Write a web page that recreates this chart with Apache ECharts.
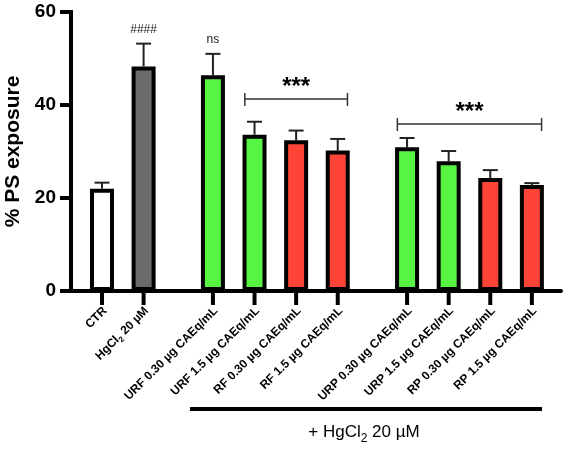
<!DOCTYPE html>
<html>
<head>
<meta charset="utf-8">
<script src="https://cdn.jsdelivr.net/npm/echarts@6/dist/echarts.min.js"></script>
<style>html,body{margin:0;padding:0;background:#fff}#c{width:567px;height:451px}</style>
</head>
<body>
<div id="c"></div>
<script>
// ---- data ----
var categories = ['CTR', 'HgCl{sub|2} 20 µM',
  'URF 0.30 µg CAEq/mL', 'URF 1.5 µg CAEq/mL', 'RF 0.30 µg CAEq/mL', 'RF 1.5 µg CAEq/mL',
  'URP 0.30 µg CAEq/mL', 'URP 1.5 µg CAEq/mL', 'RP 0.30 µg CAEq/mL', 'RP 1.5 µg CAEq/mL'];
var groupOf = [0, 0, 1, 1, 1, 1, 2, 2, 2, 2];
var values = [22.0, 48.3, 46.4, 33.6, 32.4, 30.2, 30.9, 27.9, 24.3, 22.8];
var errors = [1.3, 4.9, 4.6, 2.8, 2.1, 2.5, 2.0, 2.2, 1.7, 0.4];
var sigLabels = ['', '####', 'ns', '', '', '', '', '', '', ''];
var barKinds = ['ctrl', 'hg', 'green', 'green', 'red', 'red', 'green', 'green', 'red', 'red'];
// brackets: [first bar index, last bar index, y value, label]
var brackets = [[3, 5, 41.3, '***'], [6, 9, 35.9, '***']];
var yTicks = [0, 20, 40, 60];

// ---- styles / layout ----
var colors = { ctrl: '#ffffff', hg: '#6b6b6b', green: '#57f443', red: '#fd4436' };
var FONT = '"Liberation Sans", Arial, Helvetica, sans-serif';
var LEAD = 2.235; // empty space before first bar, in slot units
var XMAX = 35.335;
function pos(i) { return LEAD + i * 3 + groupOf[i] * 2; }

var barData = values.map(function (v, i) {
  return { value: [pos(i), v], itemStyle: { color: colors[barKinds[i]] } };
});
var errData = values.map(function (v, i) { return [pos(i), v, errors[i], i]; });
var lblData = categories.map(function (c, i) { return [pos(i), 0, i]; });
var brData = brackets.map(function (b) { return [pos(b[0]) - 0.7, pos(b[1]) + 0.7, b[2], b[3]]; });
var yAxisData = yTicks.map(function (t) { return [0, t]; });

var chart = echarts.init(document.getElementById('c'), null, { renderer: 'canvas' });
chart.setOption({
  animation: false,
  backgroundColor: '#fff',
  grid: { left: 71, right: 6, top: 12, bottom: 160, containLabel: false, outerBoundsMode: 'none' },
  xAxis: {
    type: 'value', min: 0, max: XMAX,
    axisLine: { show: true, lineStyle: { color: '#000', width: 4 } },
    axisTick: { show: false }, axisLabel: { show: false }, splitLine: { show: false }
  },
  yAxis: {
    type: 'value', min: yTicks[0], max: yTicks[yTicks.length - 1], interval: 20,
    axisLine: { show: false }, axisTick: { show: false },
    axisLabel: { color: '#000', fontSize: 19, fontWeight: 'bold', fontFamily: FONT, margin: 15 },
    splitLine: { show: false },
    name: '% PS exposure', nameLocation: 'middle', nameGap: 44,
    nameTextStyle: { color: '#000', fontSize: 21, fontWeight: 'bold', fontFamily: FONT }
  },
  series: [
    {
      // y axis line and ticks
      type: 'custom', z: 5, clip: false,
      renderItem: function (params, api) {
        var p = api.coord([api.value(0), api.value(1)]);
        var children = [
          { type: 'line', shape: { x1: p[0] - 11, y1: p[1], x2: p[0], y2: p[1] }, style: { stroke: '#000', lineWidth: 4 } }
        ];
        if (params.dataIndex === 0) {
          var top = api.coord([0, yTicks[yTicks.length - 1]]);
          children.push({ type: 'line', shape: { x1: p[0], y1: p[1] + 2, x2: top[0], y2: top[1] - 2 }, style: { stroke: '#000', lineWidth: 4 } });
        }
        return { type: 'group', children: children };
      },
      data: yAxisData
    },
    {
      type: 'custom', z: 1,
      renderItem: function (params, api) {
        var p = api.coord([api.value(0), api.value(1)]);
        var q = api.coord([api.value(0), api.value(1) + api.value(2)]);
        var i = api.value(3);
        var children = [
          { type: 'line', shape: { x1: p[0], y1: p[1], x2: q[0], y2: q[1] }, style: { stroke: '#222', lineWidth: 2 } },
          { type: 'line', shape: { x1: q[0] - 7.5, y1: q[1], x2: q[0] + 7.5, y2: q[1] }, style: { stroke: '#222', lineWidth: 2 } }
        ];
        if (sigLabels[i]) {
          children.push({ type: 'text', x: q[0], y: q[1] - 14,
            style: { text: sigLabels[i], fill: '#222', font: '12px ' + FONT, textAlign: 'center', textVerticalAlign: 'middle' } });
        }
        return { type: 'group', children: children };
      },
      data: errData
    },
    {
      type: 'bar', z: 2, barWidth: 24,
      itemStyle: { borderColor: '#000', borderWidth: 4 },
      data: barData
    },
    {
      type: 'custom', z: 3, clip: false,
      renderItem: function (params, api) {
        var p = api.coord([api.value(0), 0]);
        var i = api.value(2);
        return { type: 'group', children: [
          { type: 'line', shape: { x1: p[0], y1: p[1] + 1, x2: p[0], y2: p[1] + 14 }, style: { stroke: '#000', lineWidth: 4 } },
          { type: 'text', x: p[0] + 3, y: p[1] + 18, rotation: Math.PI / 4,
            style: { text: categories[i], fill: '#000', fontSize: 12, fontWeight: 'bold', fontFamily: FONT,
              align: 'right', verticalAlign: 'middle',
              rich: { sub: { fontSize: 8, fontWeight: 'bold', fontFamily: FONT, fill: '#000', padding: [8, 0, 0, 0] } } } }
        ] };
      },
      data: lblData
    },
    {
      type: 'custom', z: 3, clip: false,
      renderItem: function (params, api) {
        var a = api.coord([api.value(0), api.value(2)]);
        var b = api.coord([api.value(1), api.value(2)]);
        var st = { stroke: '#333', lineWidth: 1.5 };
        return { type: 'group', children: [
          { type: 'line', shape: { x1: a[0], y1: a[1], x2: b[0], y2: b[1] }, style: st },
          { type: 'line', shape: { x1: a[0], y1: a[1] - 6, x2: a[0], y2: a[1] + 7 }, style: st },
          { type: 'line', shape: { x1: b[0], y1: b[1] - 6, x2: b[0], y2: b[1] + 7 }, style: st },
          { type: 'text', x: (a[0] + b[0]) / 2, y: a[1] - 12,
            style: { text: brData[params.dataIndex][3], fill: '#000', font: 'bold 24px ' + FONT, textAlign: 'center', textVerticalAlign: 'middle' } }
        ] };
      },
      data: brData
    }
  ],
  graphic: [
    { type: 'line', shape: { x1: 190, y1: 409, x2: 542, y2: 409 }, style: { stroke: '#000', lineWidth: 4 } },
    { type: 'text', x: 364, y: 432,
      style: { text: '+ HgCl{sub|2} 20 µM', fill: '#000', fontSize: 17, fontFamily: FONT, align: 'center', verticalAlign: 'middle',
        rich: { sub: { fontSize: 12, fontFamily: FONT, fill: '#000', padding: [14, 0, 0, 0] } } } }
  ]
});
</script>
</body>
</html>
